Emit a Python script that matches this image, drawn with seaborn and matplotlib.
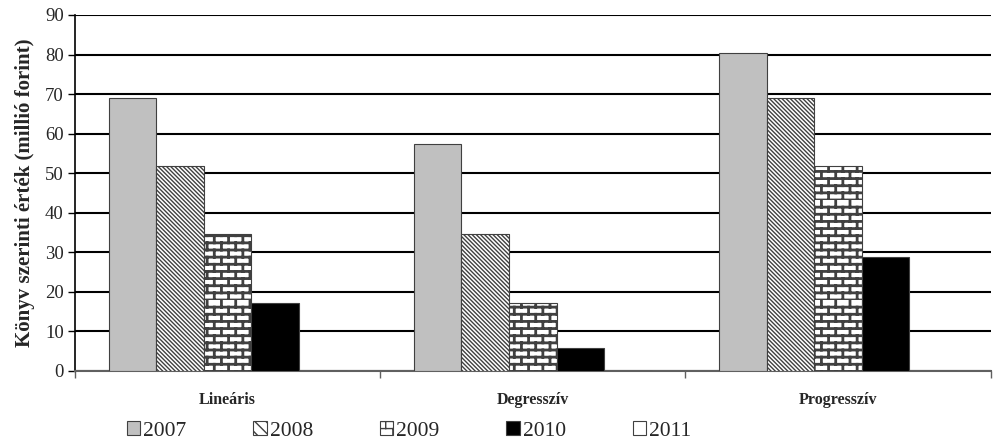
import numpy as np
import pandas as pd
import matplotlib
matplotlib.use("Agg")
import matplotlib.pyplot as plt
import seaborn as sns
from matplotlib import hatch as mhatch
from matplotlib.path import Path
from matplotlib.patches import Patch
import warnings

warnings.filterwarnings("ignore")

# adatok
kategoriak = ["Lineáris", "Degresszív", "Progresszív"]
evek = ["2007", "2008", "2009", "2010", "2011"]
ertek_2007 = [69.0, 57.5, 80.5]
ertek_2008 = [51.75, 34.5, 69.0]
ertek_2009 = [34.5, 17.25, 51.75]
ertek_2010 = [17.25, 5.75, 28.75]
ertek_2011 = [0.0, 0.0, 0.0]


# tégla mintázat ('b' betű)
class BrickHatch(mhatch.HatchPatternBase):
    def __init__(self, hatch, density):
        self.rows = 14 if 'b' in hatch else 0
        self.cols = 7
        self.num_lines = self.rows + self.rows * self.cols
        self.num_vertices = self.num_lines * 2

    def set_vertices_and_codes(self, vertices, codes):
        k = 0
        for i in range(self.rows):
            y = i / self.rows
            vertices[k] = (0.0, y)
            vertices[k + 1] = (1.0, y)
            k += 2
            off = 0.5 if i % 2 else 0.0
            for j in range(self.cols):
                x = (j + off) / self.cols
                vertices[k] = (x, y)
                vertices[k + 1] = (x, y + 1 / self.rows)
                k += 2
        codes[0::2] = Path.MOVETO
        codes[1::2] = Path.LINETO


mhatch._hatch_types.append(BrickHatch)

sns.set_style("white")
plt.rcParams['font.family'] = ['Liberation Serif', 'DejaVu Serif']
plt.rcParams['hatch.linewidth'] = 1.0

df = pd.DataFrame({
    "kategoria": kategoriak * 5,
    "ev": np.repeat(evek, 3),
    "ertek": ertek_2007 + ertek_2008 + ertek_2009 + ertek_2010 + ertek_2011,
})

szinek = ["#C0C0C0", "white", "white", "black", "white"]
mintak = [None, "\\" * 8, "b", None, None]

fig = plt.figure(figsize=(9.93, 4.41), dpi=100)
ax = fig.add_axes([0.0755, 0.159, 0.922, 0.807])

sns.barplot(data=df, x="kategoria", y="ertek", hue="ev", palette=szinek,
            width=0.78, saturation=1, legend=False, ax=ax, zorder=3)

for cont, h in zip(ax.containers, mintak):
    for bar in cont:
        bar.set_edgecolor("#404040")
        bar.set_linewidth(0.8)
        if h:
            bar.set_hatch(h)
            if h == "b" and hasattr(bar, "set_hatch_linewidth"):
                bar.set_hatch_linewidth(2.0)

ax.set_ylim(0, 90)
ax.set_xlim(-0.5, 2.5)
ax.set_yticks(range(0, 91, 10))
ax.yaxis.grid(True, color="black", linewidth=1.5, zorder=0)
ax.set_axisbelow(True)
ax.set_xlabel("")
ax.set_ylabel("Könyv szerinti érték (millió forint)", fontsize=15,
              fontweight="bold", labelpad=7)
for lab in ax.get_xticklabels():
    lab.set_fontweight("bold")
    lab.set_fontsize(11.5)
ax.tick_params(axis="y", labelsize=13.5, length=5, width=1, color="black",
               left=True, pad=3)
ax.tick_params(axis="x", which="major", length=0, pad=15)
ax.set_xticks([-0.5, 0.5, 1.5, 2.5], minor=True)
ax.tick_params(axis="x", which="minor", length=5, width=1, color="#606060",
               bottom=True)

sns.despine(ax=ax, top=True, right=True)
ax.spines["left"].set_color("black")
ax.spines["left"].set_linewidth(1.2)
ax.spines["bottom"].set_color("#606060")
ax.spines["bottom"].set_linewidth(1.5)

fogantyuk = []
for ev, c, h in zip(evek, szinek, mintak):
    hh = "\\\\\\" if h and h.startswith("\\") else h
    fogantyuk.append(Patch(facecolor=c, edgecolor="#404040", hatch=hh,
                           linewidth=0.8, label=ev))
fig.legend(handles=fogantyuk, loc="center", bbox_to_anchor=(0.412, 0.023),
           ncol=5, frameon=False, fontsize=15.5, handlelength=0.62,
           handleheight=0.62, handletextpad=0.15, columnspacing=3.1)

fig.savefig("out.png", dpi=100)
